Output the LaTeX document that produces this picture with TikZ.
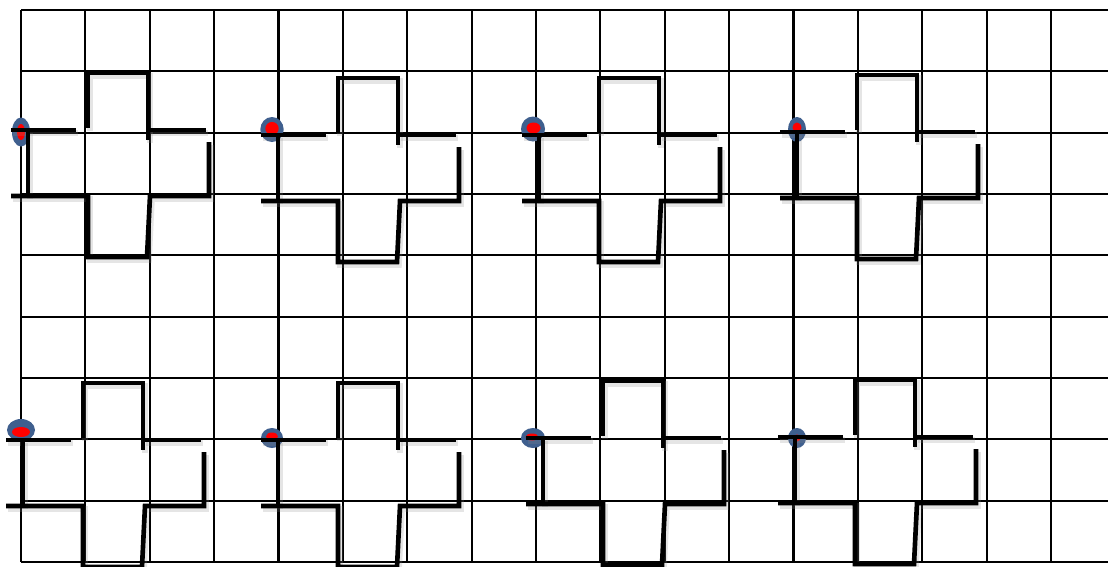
\documentclass[tikz,border=0pt]{standalone}
\usepackage{xcolor}
\definecolor{DotBlue}{HTML}{3F5F8E}
\definecolor{DotRed}{HTML}{FF0000}
\definecolor{Shade}{HTML}{8C8C8C}
% one cross outline, drawn relative to its left post (0,0)
\newcommand{\crossparts}[1]{%
  \draw[#1] (-17,0) -- (48,0);
  \draw[#1] (0,0) -- (0,66);
  \draw[#1] (60,-2) -- (60,-57) -- (120,-57) -- (120,10);
  \draw[#1] (121,0) -- (178,0);
  \draw[#1] (-17,66) -- (60,66) -- (60,127) -- (119,127) -- (122,66) -- (181,66) -- (181,12);}

\begin{document}
\begin{tikzpicture}[x=0.025cm,y=-0.025cm,gridline/.style={line width=1.5pt,draw=black},wall/.style={line width=3.3pt,draw=black,line join=miter},wallshade/.style={line width=4pt,draw=Shade,opacity=0.22,shift={(2,3)}}]
\useasboundingbox (0,0) rectangle (1108,566);
\clip (0,0) rectangle (1108,566);
\fill[white] (0,0) rectangle (1108,566);

\foreach \i in {0,...,16} \draw[gridline] ({21+64.375*\i},10) -- ({21+64.375*\i},562);
\foreach \j in {0,...,9} \draw[gridline] (21,{10+61.33*\j}) -- (1108,{10+61.33*\j});

% start markers
\foreach \cx/\cy/\bx/\by/\rcx/\rcy/\rx/\ry in {21/132/9/14.5/21/132/4/8, 272/129.5/11.7/12.5/272/128.5/6.7/6.5, 533/129/12/12.5/533.5/128/7/5.5, 797/129.5/9/12.5/797/127.5/4.5/5, 21/430/14/11/21/432/9/5, 272/438/11/10/272/436.5/6/4, 533/438/12/10/532/437/6.5/3.5, 797/438/9/10/797/438/3.5/3.5}{
  \fill[DotBlue] (\cx,\cy) ellipse [x radius=\bx,y radius=\by];
  \fill[DotRed] (\rcx,\rcy) ellipse [x radius=\rx,y radius=\ry];}

% crosses
\foreach \L/\T in {28/130, 278/135, 539/135, 797/132, 23/440, 278/440, 543/438, 795/437}{
  \begin{scope}[shift={(\L,\T)}]
    \crossparts{wallshade}
    \crossparts{wall}
  \end{scope}}

\end{tikzpicture}
\end{document}
